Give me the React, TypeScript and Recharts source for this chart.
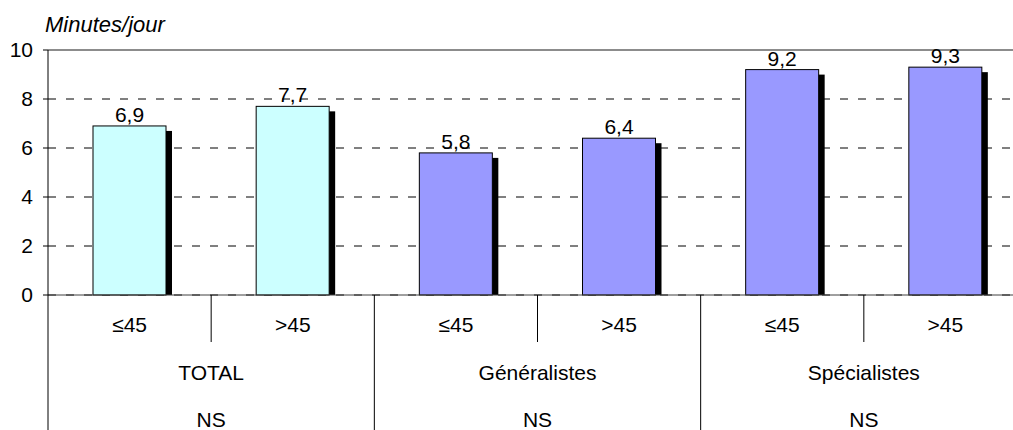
import React from 'react';
import { BarChart, Bar, XAxis, YAxis, CartesianGrid, ReferenceLine, LabelList, Cell } from 'recharts';

// values (minutes per day)
const GROUPS = ['TOTAL', 'TOTAL', 'Généralistes', 'Généralistes', 'Spécialistes', 'Spécialistes'];
const SUBGROUPS = ['≤45', '>45', '≤45', '>45', '≤45', '>45'];
const VALUES = [6.9, 7.7, 5.8, 6.4, 9.2, 9.3];
const SIGNIF: Record<string, string> = { TOTAL: 'NS', 'Généralistes': 'NS', 'Spécialistes': 'NS' };
const Y_TICKS = [0, 2, 4, 6, 8, 10];

const GROUP_COLORS: Record<string, string> = {
    TOTAL: '#CCFFFF',
    'Généralistes': '#9999FF',
    'Spécialistes': '#9999FF',
};

const data = VALUES.map((v, i) => ({
    id: `${GROUPS[i]}|${SUBGROUPS[i]}|${i}`,
    group: GROUPS[i],
    sub: SUBGROUPS[i],
    value: v,
}));

const FONT = '"Liberation Sans", Arial, sans-serif';
const FS = 21;
const CHART_W = 1028;
const CHART_H = 430;
const MARGIN = { top: 50, right: 1, bottom: 0, left: 0 };
const Y_W = 48;
const X_H = 135;
const HALF_BAND = (CHART_W - Y_W - MARGIN.left - MARGIN.right) / data.length / 2;

const ShadowBar = (props: any) => {
    const { x, y, width, height, fill } = props;
    if (height <= 0) return null;
    return (
        <g>
            <rect x={x + 6} y={y + 5} width={width} height={Math.max(0, height - 5)} fill="#000" />
            <rect x={x} y={y} width={width} height={height} fill={fill} stroke="#000" strokeWidth={1} />
        </g>
    );
};

const GroupTick = (props: any) => {
    const { x, y, payload } = props;
    const i = payload.index;
    const row = data[i];
    const half = payload.offset || HALF_BAND;
    const left = x - half;
    const firstOfGroup = i === 0 || data[i - 1].group !== row.group;
    const txt = { fontFamily: FONT, fontSize: FS, fill: '#000', textAnchor: 'middle' as const };
    return (
        <g>
            <text x={x} y={y + 37} {...txt}>{row.sub}</text>
            {firstOfGroup ? (
                <g>
                    <line x1={left} x2={left} y1={y} y2={y + X_H} stroke="#000" />
                    <text x={x + half} y={y + 85} {...txt}>{row.group}</text>
                    <text x={x + half} y={y + 132} {...txt}>{SIGNIF[row.group]}</text>
                </g>
            ) : (
                <line x1={left} x2={left} y1={y} y2={y + 47} stroke="#000" />
            )}
        </g>
    );
};

export default function App() {
    return (
        <div style={{ position: 'absolute', left: 0, top: 0, width: 1013, height: 430, overflow: 'hidden', background: '#fff' }}>
            <div style={{ position: 'absolute', left: 45, top: 14, fontFamily: FONT, fontStyle: 'italic', fontSize: 22, lineHeight: '22px', color: '#000' }}>
                Minutes/jour
            </div>
            <BarChart width={CHART_W} height={CHART_H} data={data} margin={MARGIN} barSize={73}>
                <CartesianGrid vertical={false} stroke="#000" strokeDasharray="8 10" />
                <XAxis
                    dataKey="id"
                    height={X_H}
                    interval={0}
                    tickLine={false}
                    tickSize={0}
                    tickMargin={0}
                    axisLine={{ stroke: '#404040' }}
                    tick={<GroupTick />}
                />
                <YAxis
                    width={Y_W}
                    domain={[0, 10]}
                    ticks={Y_TICKS}
                    interval={0}
                    tickSize={5}
                    tickMargin={10}
                    axisLine={{ stroke: '#000' }}
                    tickLine={{ stroke: '#000' }}
                    tick={{ fontFamily: FONT, fontSize: FS, fill: '#000' }}
                />
                <ReferenceLine y={10} stroke="#8c8c8c" strokeWidth={2} />
                <Bar dataKey="value" shape={<ShadowBar />} isAnimationActive={false}>
                    {data.map((d) => (
                        <Cell key={d.id} fill={GROUP_COLORS[d.group]} />
                    ))}
                    <LabelList
                        dataKey="value"
                        position="top"
                        offset={4}
                        formatter={(v: any) => Number(v).toFixed(1).replace('.', ',')}
                        style={{ fontFamily: FONT, fontSize: FS, fill: '#000' }}
                    />
                </Bar>
            </BarChart>
        </div>
    );
}
